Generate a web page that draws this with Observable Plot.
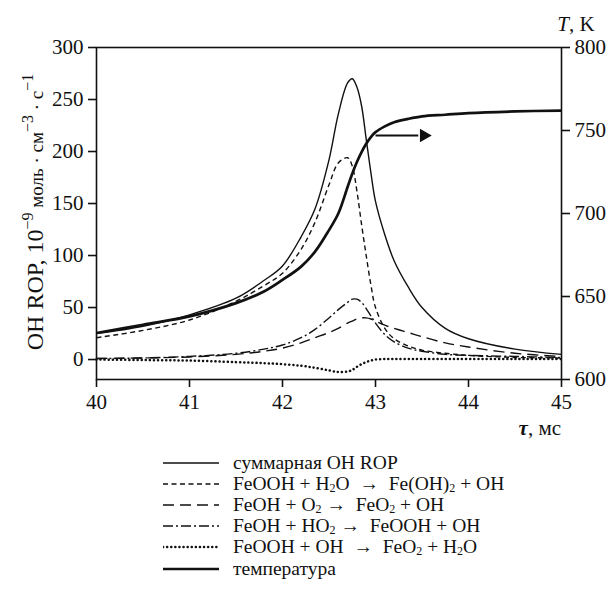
<!DOCTYPE html>
<html><head><meta charset="utf-8">
<script src="https://cdn.jsdelivr.net/npm/d3@7"></script>
<script src="https://cdn.jsdelivr.net/npm/@observablehq/plot@0.6"></script>
<style>
body{margin:0;background:#fff;font-family:"Liberation Serif",serif;color:#111;}
#legend{position:relative;height:166px;}
.row{position:absolute;left:0;display:flex;align-items:center;height:21px;font-size:19.5px;white-space:nowrap;}
.row svg{margin-right:14px;}
sub{font-size:12px;vertical-align:-2px;line-height:0;}
</style></head><body><div id="chart"></div><div id="legend"></div>
<script>
// time, ms
const tau = [40, 40.5, 41, 41.5, 41.8, 42, 42.2, 42.35, 42.5, 42.6, 42.7, 42.75, 42.8, 42.85, 42.9, 42.95, 43, 43.1, 43.2, 43.35, 43.5, 43.75, 44, 44.5, 45];
// OH rate of production, 1e-9 mol cm^-3 s^-1
const totalROP   = [25, 32, 43, 59, 76, 90, 118, 145, 192, 236, 266, 270, 262, 244, 212, 180, 152, 120, 95, 70, 50, 30, 20, 10, 5];
const feoohH2O   = [21, 28, 38, 56, 71, 83, 106, 132, 168, 189, 194, 186, 162, 130, 100, 72, 50, 30, 20, 13, 9, 6, 4, 2, 1.5];
const feohO2     = [1, 1.5, 2.5, 5, 8, 11, 16, 21, 26, 30, 35, 37, 39, 40, 40, 39, 37, 33, 30, 26, 22, 16, 12, 6, 3];
const feohHO2    = [1, 1.5, 3, 6, 10, 14, 21, 29, 40, 48, 55, 58, 58, 55, 49, 42, 35, 24, 17, 11, 8, 5, 4, 3, 2];
const feoohOH    = [0, -0.5, -1, -2.5, -3.5, -4.5, -6, -8, -10.5, -12, -11.5, -10, -7, -4.5, -2.5, -1, 0, 0.5, 0.5, 0.5, 0.5, 0.5, 0.5, 0.5, 0.5];
// temperature, K (right axis)
const temperature = [628, 633, 638, 646, 653, 660, 668, 677, 690, 700, 716, 724, 731, 737, 742, 746, 749, 752.5, 755, 757, 758.5, 759.5, 760.5, 761.5, 762];

const xTicks = [40, 41, 42, 43, 44, 45];
const leftTicks = [0, 50, 100, 150, 200, 250, 300];
const rightTicks = [600, 650, 700, 750, 800];
const arrowTau = [43.0, 43.58];
const arrowT = 747;

const LEFT = [-19.2, 300];
const RIGHT = [600, 800];
const toL = T => LEFT[0] + (T - RIGHT[0]) * (LEFT[1] - LEFT[0]) / (RIGHT[1] - RIGHT[0]);
const fromL = v => RIGHT[0] + (v - LEFT[0]) * (RIGHT[1] - RIGHT[0]) / (LEFT[1] - LEFT[0]);

const styles = [
  {key: "total", values: totalROP, width: 1.4, dash: null, cap: "butt"},
  {key: "h2o", values: feoohH2O, width: 1.4, dash: "5,3.5", cap: "butt"},
  {key: "o2", values: feohO2, width: 1.4, dash: "11,6", cap: "butt"},
  {key: "ho2", values: feohHO2, width: 1.4, dash: "10,3,2,3", cap: "butt"},
  {key: "oh", values: feoohOH, width: 2.5, dash: "0.1,4", cap: "round"},
  {key: "temp", values: temperature.map(toL), width: 2.7, dash: null, cap: "butt"}
];

const lineMarks = styles.map(s => Plot.line(tau.map((t, i) => ({t, v: s.values[i]})), {
  x: "t", y: "v", stroke: "#111", strokeWidth: s.width,
  strokeDasharray: s.dash, strokeLinecap: s.cap, curve: "catmull-rom"
}));

const arrowData = [{x1: arrowTau[0], x2: arrowTau[1], y: toL(arrowT)}];

const chart = Plot.plot({
  width: 614, height: 440,
  marginLeft: 96, marginRight: 53, marginTop: 47, marginBottom: 61,
  style: {fontFamily: "'Liberation Serif', serif", fontSize: "21px", color: "#111", background: "#fff", overflow: "visible"},
  x: {domain: [40, 45], label: null},
  y: {domain: LEFT, label: null},
  marks: [
    ...lineMarks,
    Plot.link(arrowData, {x1: "x1", x2: d => d.x2 - 0.12, y1: "y", y2: "y", stroke: "#111", strokeWidth: 1.8}),
    Plot.dot(arrowData, {x: d => d.x2 - 0.06, y: "y", symbol: "triangle2", r: 6.5, rotate: 90, fill: "#111", stroke: "none"}),
    Plot.frame({stroke: "#111", strokeWidth: 1.6}),
    Plot.axisX({ticks: xTicks, tickSize: 8, tickPadding: 7, tickFormat: d => d, label: null, strokeWidth: 1.6}),
    Plot.axisY({ticks: leftTicks, tickSize: 8, tickPadding: 5, tickFormat: d => d, label: null, strokeWidth: 1.6}),
    Plot.axisY({anchor: "right", ticks: rightTicks.map(toL), tickFormat: d => Math.round(fromL(d)), tickSize: 8, tickPadding: 5, label: null, strokeWidth: 1.6})
  ]
});
document.getElementById("chart").appendChild(chart);

const svg = d3.select(chart);
// left axis title
const yl = svg.append("text")
  .attr("transform", "translate(43,212) rotate(-90)")
  .attr("text-anchor", "middle")
  .attr("font-size", 24).attr("fill", "#111");
yl.append("tspan").text("OH ROP, 10");
yl.append("tspan").attr("dy", -10).attr("font-size", 16).text("−9");
yl.append("tspan").attr("dy", 10).attr("font-size", 19).text(" моль · см");
yl.append("tspan").attr("dy", -10).attr("font-size", 16).text("−3");
yl.append("tspan").attr("dy", 10).attr("font-size", 19).text(" · с");
yl.append("tspan").attr("dy", -10).attr("font-size", 16).text("−1");
// right axis title
const rl = svg.append("text").attr("x", 576).attr("y", 31).attr("font-size", 21).attr("fill", "#111");
rl.append("tspan").attr("font-style", "italic").text("T");
rl.append("tspan").text(", K");
// x axis title
const xl = svg.append("text").attr("x", 561).attr("y", 435).attr("text-anchor", "end").attr("font-size", 21).attr("fill", "#111");
xl.append("tspan").attr("font-style", "italic").attr("font-weight", "bold").text("τ");
xl.append("tspan").text(", мс");

// legend
const legendLabels = [
  "суммарная OH ROP",
  "FeOOH + H<sub>2</sub>O &nbsp;→ &nbsp;Fe(OH)<sub>2</sub> + OH",
  "FeOH + O<sub>2</sub> → &nbsp;FeO<sub>2</sub> + OH",
  "FeOH + HO<sub>2</sub> → &nbsp;FeOOH + OH",
  "FeOOH + OH &nbsp;→ &nbsp;FeO<sub>2</sub> + H<sub>2</sub>O",
  "температура"
];
const legend = document.getElementById("legend");
styles.forEach((s, i) => {
  const row = document.createElement("div");
  row.className = "row";
  row.style.top = (12 + i * 21.2) + "px";
  row.style.left = "163px";
  row.innerHTML = `<svg width="56" height="10"><line x1="0" x2="56" y1="5" y2="5" stroke="#111" stroke-width="${s.width}" ${s.dash ? `stroke-dasharray="${s.dash}"` : ""} stroke-linecap="${s.cap}"/></svg><span>${legendLabels[i]}</span>`;
  legend.appendChild(row);
});
</script>
</body></html>
